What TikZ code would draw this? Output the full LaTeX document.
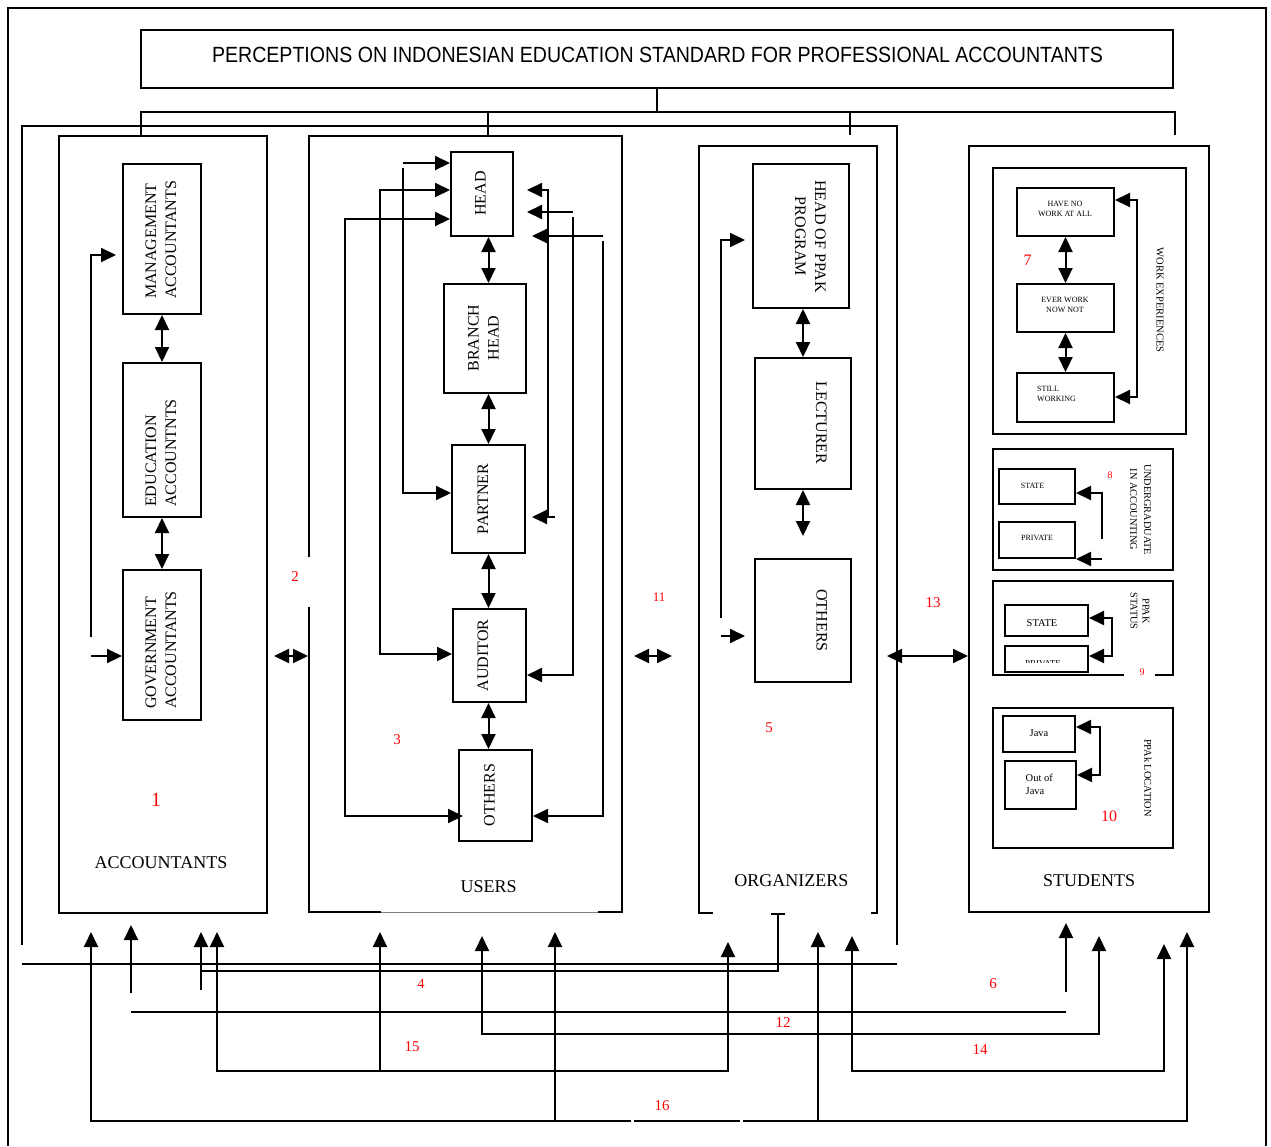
\documentclass[tikz,border=0pt]{standalone}
\usepackage{fontspec}
\setmainfont{Liberation Serif}
\newfontfamily\titlefont[FakeStretch=0.89]{Liberation Sans}
\usetikzlibrary{arrows.meta}
\newcommand\rotU[2][c]{\rotatebox{90}{\begin{tabular}{@{}#1@{}}#2\end{tabular}}}
\newcommand\rotD[2][c]{\rotatebox{-90}{\begin{tabular}{@{}#1@{}}#2\end{tabular}}}
\newcommand\fs[2]{\fontsize{#1}{#2}\selectfont}
\begin{document}
\begin{tikzpicture}[x=1pt,y=-1pt,
  >={Triangle[length=15pt,width=14pt]},
  box/.style={draw,line width=2pt,inner sep=0pt},
  ln/.style={line width=2pt},
  lbl/.style={inner sep=0pt,font=\fs{16}{20}},
  big/.style={inner sep=0pt,font=\fs{18}{22},anchor=base},
  num/.style={inner sep=0pt,text=red},
  sm/.style={inner sep=0pt,font=\fs{8}{10},align=center},
  md/.style={inner sep=0pt,font=\fs{10.5}{12.7},align=center},
]
\useasboundingbox (0,0) rectangle (1271,1146);
\fill[white] (0,0) rectangle (1271,1146);
% outer frame
\draw[line width=1.6pt] (8,1146) -- (8,8) -- (1266,8) -- (1266,1146);
% title
\node[box,minimum width=1032pt,minimum height=58pt] (title) at (657,59) {};
\node[inner sep=0pt,anchor=base,font=\titlefont\fs{22}{24}] (titleT) at (657.5,62.5) {PERCEPTIONS ON INDONESIAN EDUCATION STANDARD FOR PROFESSIONAL ACCOUNTANTS};

% ---------------- ACCOUNTANTS
\node[box,minimum width=208pt,minimum height=777pt] (acc) at (163,524.5) {};
\node[box,minimum width=78pt,minimum height=150pt] (mgmt) at (162,239) {};
\node[lbl] (mgmtT) at (162,240) {\rotU[l]{MANAGEMENT\\ACCOUNTANTS}};
\node[box,minimum width=78pt,minimum height=154pt] (edu) at (162,440) {};
\node[lbl] (eduT) at (162,453) {\rotU[l]{EDUCATION\\ACCOUNTNTS}};
\node[box,minimum width=78pt,minimum height=150pt] (gov) at (162,645) {};
\node[lbl] (govT) at (162,650) {\rotU[l]{GOVERNMENT\\ACCOUNTANTS}};
\node[big] (accT) at (161,868) {ACCOUNTANTS};
\node[num,font=\fs{20}{20}] (n1) at (156,800) {1};
\draw[ln,<->] (mgmt.south) -- (edu.north);
\draw[ln,<->] (edu.south) -- (gov.north);
\coordinate (aL1) at (91,637); \coordinate (aL2) at (91,255); \coordinate (aL3) at (116,255);
\draw[ln,->] (aL1) -- (aL2) -- (aL3);
\coordinate (aL4) at (91,656);
\draw[ln,->] (aL4) -- (aL4 -| gov.west);

% ---------------- USERS
\node[box,minimum width=313pt,minimum height=776pt] (users) at (465.5,524) {};
\fill[white] (281,557) rectangle (311,607);
\fill[white] (381,905) rectangle (598,918);
\draw[gray,line width=0.6pt] (381,912) -- (598,912);
\node[box,minimum width=62pt,minimum height=84pt] (head) at (482,194) {};
\node[lbl] (headT) at (481.7,193.4) {\rotU{HEAD}};
\node[box,minimum width=82pt,minimum height=109pt] (branch) at (485,338.5) {};
\node[lbl] (branchT) at (484.5,338) {\rotU{BRANCH\\HEAD}};
\node[box,minimum width=73pt,minimum height=108pt] (partner) at (488.5,499) {};
\node[lbl] (partnerT) at (484,499) {\rotU{PARTNER}};
\node[box,minimum width=73pt,minimum height=93pt] (auditor) at (489.5,655.5) {};
\node[lbl] (auditorT) at (484,655.5) {\rotU{AUDITOR}};
\node[box,minimum width=73pt,minimum height=91pt] (uothers) at (495.5,795.5) {};
\node[lbl] (uothersT) at (490.5,795) {\rotU{OTHERS}};
\node[big] (usersT) at (488.7,892) {USERS};
\node[num,font=\fs{15}{15}] (n3) at (397,740) {3};
\node[num,font=\fs{15}{15}] (n2) at (295,577) {2};
\draw[ln,<->] (head.south -| partner) -- (branch.north -| partner);
\draw[ln,<->] (branch.south -| partner) -- (partner.north);
\draw[ln,<->] (partner.south) -- (auditor.north -| partner);
\draw[ln,<->] (auditor.south -| partner) -- (uothers.north -| partner);
% left feeders
\coordinate (u1a) at (403,163);
\draw[ln,->] (u1a) -- (u1a -| head.west);
\coordinate (u1b) at (403,168); \coordinate (u1c) at (403,493);
\draw[ln,->] (u1b) -- (u1c) -- (u1c -| partner.west);
\coordinate (u2a) at (380,190); \coordinate (u2b) at (380,654);
\draw[ln,<->] (u2a -| head.west) -- (u2a) -- (u2b) -- (u2b -| auditor.west);
\coordinate (u3a) at (345,219); \coordinate (u3b) at (345,816); \coordinate (u3c) at (463,816);
\draw[ln,<->] (u3a -| head.west) -- (u3a) -- (u3b) -- (u3c);
% right feeders
\coordinate (r1a) at (527,190); \coordinate (r1b) at (548,190); \coordinate (r1c) at (548,517);
\draw[ln,<-] (r1a) -- (r1b) -- (r1c);
\coordinate (r1d) at (555,517); \coordinate (r1e) at (532,517);
\draw[ln,->] (r1d) -- (r1e);
\coordinate (r2a) at (573,212); \coordinate (r2b) at (527,212);
\draw[ln,->] (r2a) -- (r2b);
\coordinate (r2c) at (573,217); \coordinate (r2d) at (573,675);
\draw[ln,->] (r2c) -- (r2d) -- (r2d -| auditor.east);
\coordinate (r3a) at (603,236); \coordinate (r3b) at (532,236);
\draw[ln,->] (r3a) -- (r3b);
\coordinate (r3c) at (603,241); \coordinate (r3d) at (603,816);
\draw[ln,->] (r3c) -- (r3d) -- (r3d -| uothers.east);

% ---------------- ORGANIZERS
\node[box,minimum width=178pt,minimum height=767pt] (org) at (788,529.5) {};
\fill[white] (713,906) rectangle (871,920);
\node[box,minimum width=96pt,minimum height=144pt] (headppak) at (801,236) {};
\node[lbl] (headppakT) at (809,236.5) {\rotD{HEAD OF PPAK\\PROGRAM}};
\node[box,minimum width=96pt,minimum height=131pt] (lecturer) at (803,423.5) {};
\node[lbl] (lecturerT) at (820,423) {\rotD{LECTURER}};
\node[box,minimum width=96pt,minimum height=123pt] (oothers) at (803,620.5) {};
\node[lbl] (oothersT) at (820.5,620.5) {\rotD{OTHERS}};
\node[big] (orgT) at (791.3,886) {ORGANIZERS};
\node[num,font=\fs{15}{15}] (n5) at (769,728) {5};
\draw[ln,<->] (headppak.south -| lecturer) -- (lecturer.north);
\coordinate (lecEnd) at (803,536);
\draw[ln,<->] (lecturer.south) -- (lecEnd);
\coordinate (o1) at (721,618); \coordinate (o2) at (721,240); \coordinate (o3) at (745,240);
\draw[ln,->] (o1) -- (o2) -- (o3);
\coordinate (o4) at (721,636); \coordinate (o5) at (745,636);
\draw[ln,->] (o4) -- (o5);

% ---------------- STUDENTS
\node[box,minimum width=240pt,minimum height=766pt] (stud) at (1089,529) {};
\node[big] (studT) at (1089,886) {STUDENTS};
% work experience
\node[box,minimum width=193pt,minimum height=266pt] (we) at (1089.5,301) {};
\node[box,minimum width=97pt,minimum height=48pt] (havenot) at (1065.5,212) {};
\node[sm] (havenotT) at (1065,208.5) {HAVE NO\\WORK AT ALL};
\node[box,minimum width=97pt,minimum height=48pt] (everwork) at (1065.5,308) {};
\node[sm] (everworkT) at (1065,304.5) {EVER WORK\\NOW NOT};
\node[box,minimum width=97pt,minimum height=49pt] (still) at (1065.5,397.5) {};
\node[sm,align=left,anchor=west] (stillT) at (1037,394) {STILL\\WORKING};
\draw[ln,<->] (havenot.south) -- (everwork.north);
\draw[ln,<->] (everwork.south) -- (still.north);
\coordinate (w1) at (1137,200); \coordinate (w2) at (1137,397);
\draw[ln,<->] (w1 -| havenot.east) -- (w1) -- (w2) -- (w2 -| still.east);
\node[inner sep=0pt,font=\fs{10.5}{12}] (weT) at (1159,300) {\rotD{WORK EXPERIENCES}};
\node[num,font=\fs{16}{16}] (n7) at (1027.5,260) {7};
% undergraduate
\node[box,minimum width=180pt,minimum height=121pt] (ug) at (1083,509.5) {};
\node[box,minimum width=76pt,minimum height=35pt] (ugstate) at (1037,486.5) {};
\node[sm] (ugstateT) at (1032.5,485.5) {STATE};
\node[box,minimum width=76pt,minimum height=36pt] (ugpriv) at (1037,540) {};
\node[sm] (ugprivT) at (1037,537.5) {PRIVATE};
\coordinate (g1) at (1102,539); \coordinate (g2) at (1102,493);
\draw[ln,->] (g1) -- (g2) -- (g2 -| ugstate.east);
\coordinate (g3) at (1102,559);
\draw[ln,->] (g3) -- (g3 -| ugpriv.east);
\node[inner sep=0pt,font=\fs{10.3}{14}] (ugT) at (1140,509.5) {\rotD{UNDERGRADUATE\\IN ACCOUNTING}};
\node[num,font=\fs{10}{10}] (n8) at (1110,475) {8};
% ppak status
\node[box,minimum width=180pt,minimum height=94pt] (ps) at (1083,628) {};
\fill[white] (1124,670) rectangle (1155,680);
\node[num,font=\fs{10}{10}] (n9) at (1142,672) {9};
\node[box,minimum width=83pt,minimum height=31pt] (psstate) at (1046.5,620.5) {};
\node[md] (psstateT) at (1042,623) {STATE};
\node[box,minimum width=83pt,minimum height=26pt] (pspriv) at (1046.5,659) {};
\begin{scope}
\clip (1006,647) rectangle (1087,662);
\node[inner sep=0pt,font=\fs{9}{10},anchor=base] (psprivT) at (1043,666) {PRIVATE};
\end{scope}
\coordinate (p1) at (1112,618); \coordinate (p2) at (1112,656);
\draw[ln,<->] (p1 -| psstate.east) -- (p1) -- (p2) -- (p2 -| pspriv.east);
\node[inner sep=0pt,font=\fs{10.3}{12}] (psT) at (1139,611) {\rotD{PPAK\\STATUS}};
% ppak location
\node[box,minimum width=180pt,minimum height=140pt] (loc) at (1083,778) {};
\node[box,minimum width=72pt,minimum height=36pt] (java) at (1039,734) {};
\node[md] (javaT) at (1039,733) {Java};
\node[box,minimum width=71pt,minimum height=48pt] (outjava) at (1040.5,785) {};
\node[md,align=left,anchor=west] (outjavaT) at (1025.5,784.5) {Out of\\Java};
\coordinate (l1) at (1100,727); \coordinate (l2) at (1100,775);
\draw[ln,<->] (l1 -| java.east) -- (l1) -- (l2) -- (l2 -| outjava.east);
\node[inner sep=0pt,font=\fs{10.4}{12}] (locT) at (1146.7,778) {\rotD{PPAk LOCATION}};
\node[num,font=\fs{16}{16}] (n10) at (1109,816.7) {10};

% ---------------- top connectors
\coordinate (t0) at (657,112);
\draw[ln] (title.south) -- (t0);
\coordinate (tL) at (141,112); \coordinate (tR) at (1175,112); \coordinate (tRe) at (1175,135);
\draw[ln] (tL |- acc.north) -- (tL) -- (tR) -- (tRe);
\coordinate (tU) at (488,112);
\draw[ln] (tU) -- (tU |- users.north);
\coordinate (tO) at (850,112); \coordinate (tOe) at (850,135);
\draw[ln] (tO) -- (tOe);
\coordinate (bA) at (22,945); \coordinate (bB) at (22,126); \coordinate (bC) at (897,126); \coordinate (bD) at (897,945);
\draw[ln] (bA) -- (bB) -- (bC) -- (bD);
\coordinate (bE) at (22,964); \coordinate (bF) at (897,964);
\draw[ln] (bE) -- (bF);

% ---------------- side double arrows
\coordinate (c2a) at (274,656); \coordinate (c2b) at (308,656);
\draw[ln,<->] (c2a) -- (c2b);
\coordinate (c11a) at (634,656); \coordinate (c11b) at (672,656);
\draw[ln,<->] (c11a) -- (c11b);
\node[num,font=\fs{13}{13}] (n11) at (659,597) {11};
\coordinate (c13) at (887,656);
\draw[ln,<->] (c13) -- (c13 -| stud.west);
\node[num,font=\fs{15}{15}] (n13) at (933,603) {13};

% ---------------- bottom connectors
% 4
\coordinate (b4a) at (771,914); \coordinate (b4b) at (785,914);
\draw[ln] (b4a) -- (b4b);
\coordinate (b4c) at (778,914); \coordinate (b4d) at (778,971); \coordinate (b4e) at (201,971);
\draw[ln] (b4c) -- (b4d) -- (b4e);
\coordinate (b4f) at (201,990); \coordinate (b4g) at (201,932);
\draw[ln,->] (b4f) -- (b4g);
\node[num,font=\fs{14}{14}] (n4) at (421,984) {4};
% 6
\coordinate (b6a) at (131,1012); \coordinate (b6b) at (1066,1012);
\draw[ln] (b6a) -- (b6b);
\coordinate (b6c) at (131,993); \coordinate (b6d) at (131,925);
\draw[ln,->] (b6c) -- (b6d);
\coordinate (b6e) at (1066,992); \coordinate (b6f) at (1066,923);
\draw[ln,->] (b6e) -- (b6f);
\node[num,font=\fs{15}{15}] (n6) at (993,984) {6};
% 12
\coordinate (b12a) at (482,936); \coordinate (b12b) at (482,1034); \coordinate (b12c) at (1099,1034); \coordinate (b12d) at (1099,936);
\draw[ln,<->] (b12a) -- (b12b) -- (b12c) -- (b12d);
\node[num,font=\fs{15}{15}] (n12) at (783,1023) {12};
% 15
\coordinate (b15a) at (217,932); \coordinate (b15b) at (217,1071); \coordinate (b15c) at (728,1071); \coordinate (b15d) at (728,942);
\draw[ln,<->] (b15a) -- (b15b) -- (b15c) -- (b15d);
\coordinate (b15e) at (380,1071); \coordinate (b15f) at (380,932);
\draw[ln,->] (b15e) -- (b15f);
\node[num,font=\fs{15}{15}] (n15) at (412,1047) {15};
% 14
\coordinate (b14a) at (852,936); \coordinate (b14b) at (852,1071); \coordinate (b14c) at (1164,1071); \coordinate (b14d) at (1164,944);
\draw[ln,<->] (b14a) -- (b14b) -- (b14c) -- (b14d);
\node[num,font=\fs{15}{15}] (n14) at (980,1050) {14};
% 16
\coordinate (b16a) at (91,932); \coordinate (b16b) at (91,1121); \coordinate (b16c) at (1187,1121); \coordinate (b16d) at (1187,932);
\draw[ln,<->] (b16a) -- (b16b) -- (b16c) -- (b16d);
\coordinate (b16e) at (555,1121); \coordinate (b16f) at (555,932);
\draw[ln,->] (b16e) -- (b16f);
\coordinate (b16g) at (818,1121); \coordinate (b16h) at (818,932);
\draw[ln,->] (b16g) -- (b16h);
\draw[white,line width=3pt] (631,1121) -- (634,1121);
\draw[white,line width=3pt] (740,1121) -- (743,1121);
\node[num,font=\fs{15}{15}] (n16) at (662,1106) {16};
\end{tikzpicture}
\end{document}
